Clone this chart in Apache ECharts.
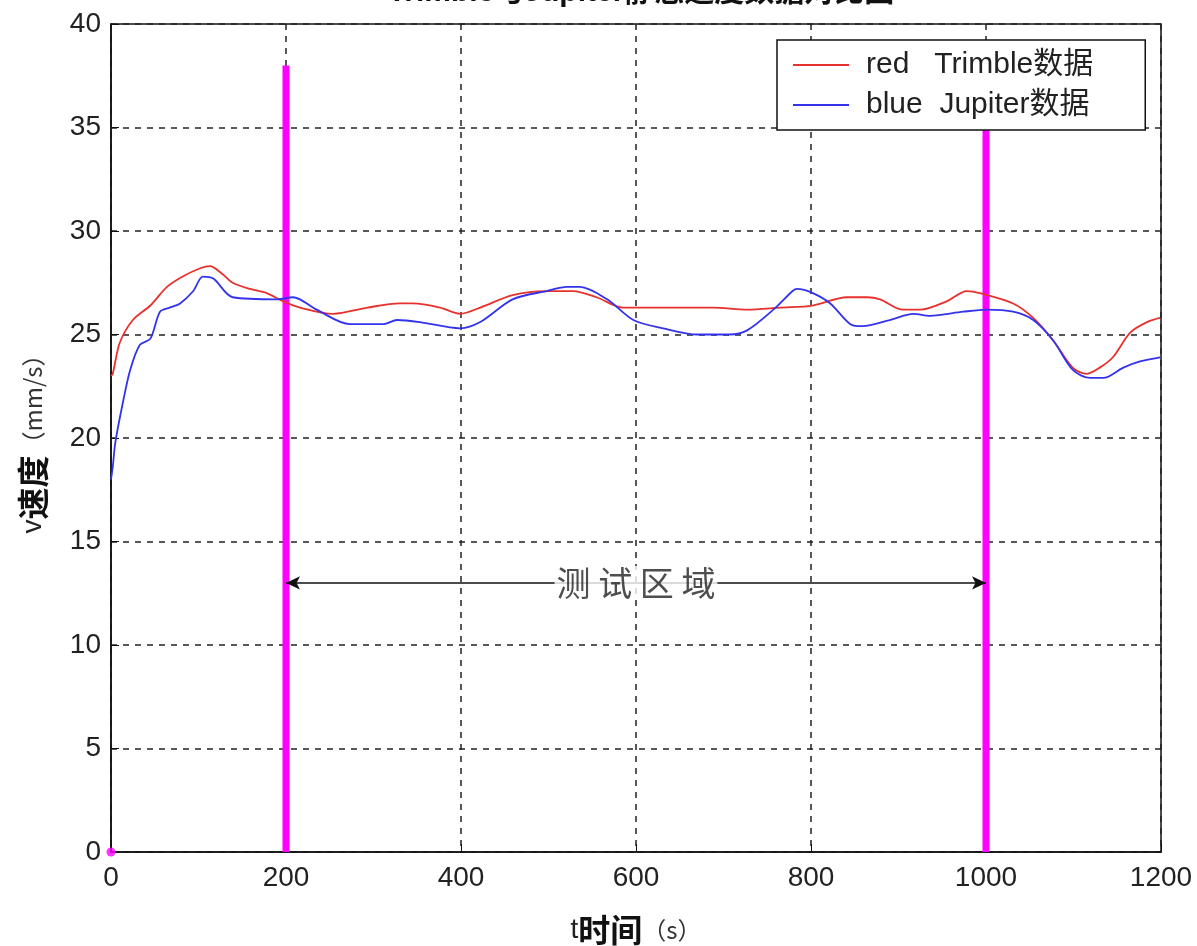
<!DOCTYPE html>
<html>
<head>
<meta charset="utf-8">
<script src="https://cdn.jsdelivr.net/npm/echarts@6/dist/echarts.min.js"></script>
<style>
  html, body { margin: 0; padding: 0; background: #fff; }
  #chart { width: 1197px; height: 946px; }
</style>
</head>
<body>
<div id="chart"></div>
<script>
// Trimble (red) speed samples
const trimbleT = [0, 2, 10, 25, 45, 64, 82, 102, 113, 128, 139, 159, 178, 197, 216, 254, 293, 330, 345, 376, 399, 422, 459, 498, 528, 555, 585, 650, 688, 727, 765, 802, 841, 864, 879, 905, 925, 955, 978, 993, 1031, 1054, 1077, 1099, 1115, 1130, 1145, 1165, 1184, 1199];
const trimbleV = [23.0, 23.1, 24.6, 25.7, 26.4, 27.3, 27.8, 28.2, 28.3, 27.9, 27.5, 27.2, 27.0, 26.6, 26.3, 26.0, 26.3, 26.5, 26.5, 26.3, 26.0, 26.3, 26.9, 27.1, 27.1, 26.8, 26.3, 26.3, 26.3, 26.2, 26.3, 26.4, 26.8, 26.8, 26.7, 26.2, 26.2, 26.6, 27.1, 27.0, 26.5, 25.8, 24.7, 23.4, 23.1, 23.4, 23.9, 25.1, 25.6, 25.8];

// Jupiter (blue) speed samples
const jupiterT = [0, 2, 5, 14, 22, 33, 45, 56, 67, 79, 94, 105, 117, 139, 190, 208, 235, 273, 311, 327, 353, 399, 422, 459, 498, 521, 536, 567, 597, 631, 670, 707, 727, 757, 779, 784, 802, 822, 845, 859, 890, 917, 936, 974, 1001, 1031, 1054, 1077, 1099, 1119, 1134, 1157, 1176, 1199];
const jupiterV = [18.0, 18.6, 19.8, 21.8, 23.3, 24.5, 24.8, 26.1, 26.3, 26.5, 27.1, 27.8, 27.7, 26.8, 26.7, 26.8, 26.2, 25.5, 25.5, 25.7, 25.6, 25.3, 25.6, 26.7, 27.1, 27.3, 27.3, 26.7, 25.7, 25.3, 25.0, 25.0, 25.2, 26.2, 27.1, 27.2, 27.0, 26.5, 25.5, 25.4, 25.7, 26.0, 25.9, 26.1, 26.2, 26.1, 25.7, 24.7, 23.3, 22.9, 22.9, 23.4, 23.7, 23.9];

// test-region bounds and marker lines
const regionStart = 200;
const regionEnd = 1000;
const markerTop = 38;
const arrowV = 13;
const regionLabel = "测试区域";

const xTicks = { min: 0, max: 1200, interval: 200 };
const yTicks = { min: 0, max: 40, interval: 5 };

const toPairs = (xs, ys) => xs.map((x, i) => [x, ys[i]]);

const latinFont = "'Liberation Sans', 'Noto Sans CJK SC', sans-serif";
const cjkFont = "'Noto Sans CJK SC', sans-serif";

const chart = echarts.init(document.getElementById("chart"));

const axisNameRich = {
  v: { fontSize: 28, color: "#222", fontFamily: latinFont },
  b: { fontSize: 32, fontWeight: "bold", color: "#111", fontFamily: cjkFont },
  u: { fontSize: 24, color: "#333", fontFamily: cjkFont },
};

const option = {
  backgroundColor: "#fff",
  animation: false,
  title: {
    text: "Trimble与Jupiter静态速度数据对比图",
    left: 636,
    textAlign: "center",
    top: -27,
    textStyle: {
      fontSize: 30,
      fontWeight: "bold",
      color: "#111",
      fontFamily: latinFont,
    },
  },
  grid: {
    left: 111,
    right: 36,
    top: 24,
    bottom: 94,
    outerBoundsMode: "none",
    show: true,
    borderColor: "#111",
    borderWidth: 1.5,
  },
  legend: {
    orient: "vertical",
    left: 777,
    top: 40,
    data: ["red   Trimble数据", "blue  Jupiter数据"],
    icon: "rect",
    backgroundColor: "#fff",
    borderColor: "#111",
    borderWidth: 1.5,
    borderRadius: 0,
    padding: [10, 52, 10, 16],
    itemGap: 10,
    itemWidth: 56,
    itemHeight: 2,
    textStyle: {
      fontSize: 30,
      color: "#222",
      fontFamily: latinFont,
      padding: [0, 0, 0, 12],
    },
  },
  xAxis: {
    type: "value",
    min: xTicks.min,
    max: xTicks.max,
    interval: xTicks.interval,
    name: "{v|t}{b|时间}{u|（s）}",
    nameLocation: "middle",
    nameGap: 62,
    nameTextStyle: { rich: axisNameRich },
    axisLine: { lineStyle: { color: "#111", width: 1.5 } },
    axisTick: { inside: true, length: 8, lineStyle: { color: "#111" } },
    axisLabel: {
      fontSize: 28,
      color: "#222",
      fontFamily: latinFont,
      margin: 12,
      formatter: (value) => String(value),
    },
    splitLine: {
      show: true,
      lineStyle: { color: "#222", type: [6, 6], width: 1.5 },
    },
  },
  yAxis: {
    type: "value",
    min: yTicks.min,
    max: yTicks.max,
    interval: yTicks.interval,
    name: "{v|v}{b|速度}{u|（mm/s）}",
    nameLocation: "middle",
    nameGap: 62,
    nameRotate: 90,
    nameTextStyle: { rich: axisNameRich },
    axisLine: { show: true, lineStyle: { color: "#111", width: 1.5 } },
    axisTick: { show: true, inside: true, length: 8, lineStyle: { color: "#111" } },
    axisLabel: { fontSize: 28, color: "#222", fontFamily: latinFont, margin: 10 },
    splitLine: {
      show: true,
      lineStyle: { color: "#222", type: [6, 6], width: 1.5 },
    },
  },
  series: [
    {
      name: "region-start",
      type: "line",
      data: [[regionStart, 0], [regionStart, markerTop]],
      symbol: "none",
      lineStyle: { color: "#ff00ff", width: 7 },
      z: 3,
      silent: true,
    },
    {
      name: "region-end",
      type: "line",
      data: [[regionEnd, 0], [regionEnd, markerTop]],
      symbol: "none",
      lineStyle: { color: "#ff00ff", width: 7 },
      z: 3,
      silent: true,
    },
    {
      name: "origin",
      type: "scatter",
      data: [[0, 0]],
      symbolSize: 9,
      itemStyle: { color: "#ff00ff" },
      z: 5,
      silent: true,
    },
    {
      name: "red   Trimble数据",
      type: "line",
      data: toPairs(trimbleT, trimbleV),
      smooth: 0.3,
      symbol: "none",
      lineStyle: { color: "#e8302c", width: 1.8 },
      itemStyle: { color: "#e8302c" },
      z: 4,
    },
    {
      name: "blue  Jupiter数据",
      type: "line",
      data: toPairs(jupiterT, jupiterV),
      smooth: 0.3,
      symbol: "none",
      lineStyle: { color: "#3333ee", width: 1.8 },
      itemStyle: { color: "#3333ee" },
      z: 4,
      markLine: {
        silent: true,
        symbol: ["arrow", "arrow"],
        symbolSize: [10, 14],
        lineStyle: { color: "#111", type: "solid", width: 1.5 },
        label: { show: false },
        data: [[{ coord: [regionStart, arrowV] }, { coord: [regionEnd, arrowV] }]],
      },
    },
    {
      name: "region-label",
      type: "scatter",
      data: [[(regionStart + regionEnd) / 2, arrowV]],
      symbolSize: 0,
      z: 6,
      silent: true,
      label: {
        show: true,
        position: "inside",
        formatter: regionLabel.split("").join(" "),
        fontSize: 34,
        color: "#222",
        fontFamily: cjkFont,
        backgroundColor: "#fff",
        padding: [0, 2],
      },
    },
  ],
};

chart.setOption(option);
</script>
</body>
</html>
